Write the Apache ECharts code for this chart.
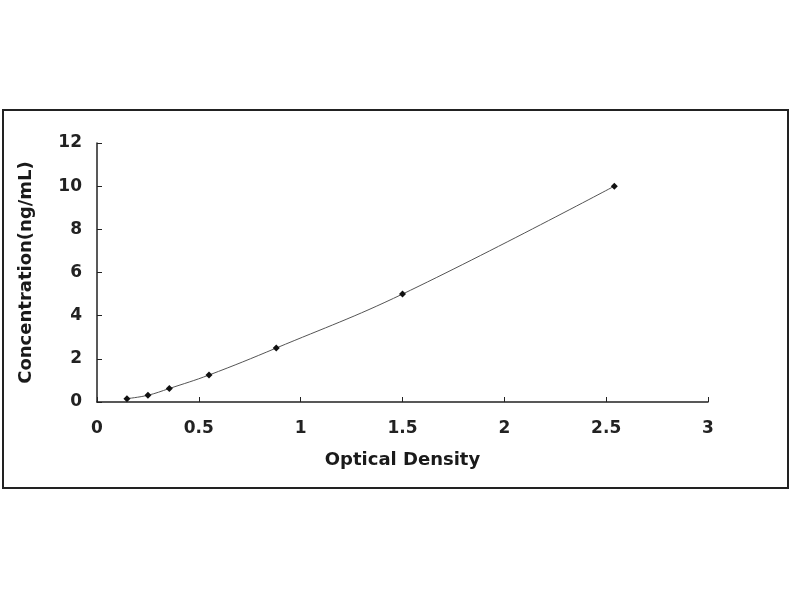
<!DOCTYPE html>
<html>
<head>
<meta charset="utf-8">
<script src="https://cdn.jsdelivr.net/npm/echarts@6/dist/echarts.min.js"></script>
<style>html,body{margin:0;padding:0;background:#fff}#c{width:800px;height:600px}</style>
</head>
<body>
<div id="c"></div>
<script>
const odValues = [0.147, 0.25, 0.355, 0.55, 0.88, 1.5, 2.54];
const concValues = [0.156, 0.312, 0.625, 1.25, 2.5, 5, 10];
const xTicks = [0, 0.5, 1, 1.5, 2, 2.5, 3];
const yTicks = [0, 2, 4, 6, 8, 10, 12];

const chart = echarts.init(document.getElementById('c'));
const FONT = 'DejaVu Sans, Arial, sans-serif';
const labelFont = {fontFamily: FONT, fontWeight: 'bold', fontSize: 17, color: '#222'};
const titleFont = {fontFamily: FONT, fontWeight: 'bold', fontSize: 18, color: '#1a1a1a'};
chart.setOption({
  animation: false,
  backgroundColor: '#fff',
  graphic: [{
    type: 'rect', shape: {x: 3, y: 110, width: 785, height: 378},
    style: {fill: 'none', stroke: '#222', lineWidth: 2}, z: -1
  }],
  grid: {left: 97, right: 92, top: 143, bottom: 198},
  xAxis: {
    type: 'value', min: 0, max: 3, interval: 0.5,
    name: 'Optical Density', nameLocation: 'middle', nameGap: 49,
    nameTextStyle: titleFont,
    axisLine: {lineStyle: {color: '#222', width: 1.5}},
    axisTick: {inside: true, length: 5, lineStyle: {color: '#222'}},
    axisLabel: Object.assign({margin: 18, formatter: v => xTicks.includes(v) ? String(v) : ''}, labelFont),
    splitLine: {show: false}
  },
  yAxis: {
    type: 'value', min: 0, max: 12, interval: 2,
    name: 'Concentration(ng/mL)', nameLocation: 'middle', nameGap: 62,
    nameTextStyle: titleFont,
    axisLine: {show: true, lineStyle: {color: '#222', width: 1.5}},
    axisTick: {show: true, inside: true, length: 5, lineStyle: {color: '#222'}},
    axisLabel: Object.assign({margin: 15, formatter: v => yTicks.includes(v) ? String(v) : ''}, labelFont),
    splitLine: {show: false}
  },
  series: [{
    type: 'line',
    data: odValues.map((x, i) => [x, concValues[i]]),
    smooth: 0.4,
    symbol: 'diamond', symbolSize: 7,
    itemStyle: {color: '#111'},
    lineStyle: {color: '#555', width: 1}
  }]
});
</script>
</body>
</html>
